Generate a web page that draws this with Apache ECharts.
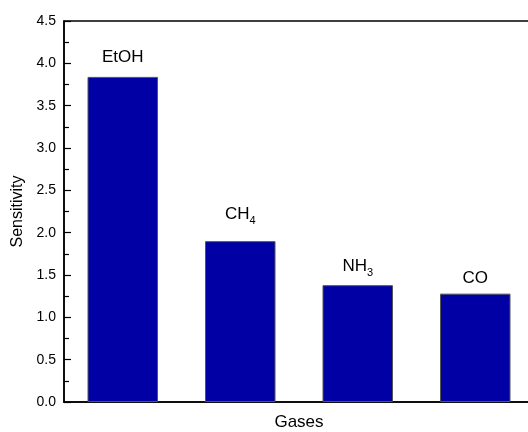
<!DOCTYPE html>
<html>
<head>
<meta charset="utf-8">
<script src="https://cdn.jsdelivr.net/npm/echarts@6/dist/echarts.min.js"></script>
<style>
  html, body { margin: 0; padding: 0; background: #fff; }
  #chart { width: 528px; height: 432px; }
</style>
</head>
<body>
<div id="chart"></div>
<script>
// Gas categories and measured sensitivity
const gases = ['EtOH', 'CH4', 'NH3', 'CO'];
const sensitivity = [3.84, 1.90, 1.38, 1.28];
// Bar annotations (rich text, with subscripts)
const gasLabels = ['EtOH', 'CH{sub|4}', 'NH{sub|3}', 'CO'];
// Gap between each bar and its annotation
const labelGaps = [11, 15, 7, 7];

const chart = echarts.init(document.getElementById('chart'));
const font = 'Liberation Sans, Arial, sans-serif';

chart.setOption({
  animation: false,
  grid: {
    left: 64, right: -6, top: 21, bottom: 30,
    outerBoundsMode: 'none',
    containLabel: false,
    show: true, borderColor: '#000', borderWidth: 1.5, backgroundColor: 'transparent'
  },
  xAxis: {
    type: 'category',
    data: gases,
    name: 'Gases',
    nameLocation: 'middle',
    nameGap: 12,
    nameTextStyle: { fontFamily: font, fontSize: 17, color: '#000' },
    axisLine: { lineStyle: { color: '#000', width: 1.5 } },
    axisTick: { show: false },
    axisLabel: { show: false },
    splitLine: { show: false }
  },
  yAxis: {
    type: 'value',
    min: 0, max: 4.5, interval: 0.5,
    name: 'Sensitivity',
    nameLocation: 'middle',
    nameGap: 38,
    nameTextStyle: { fontFamily: font, fontSize: 16, color: '#000' },
    axisLine: { show: true, lineStyle: { color: '#000', width: 1.5 } },
    axisTick: { show: true, inside: true, length: 7, lineStyle: { color: '#000', width: 1.2 } },
    minorTick: { show: true, splitNumber: 2, length: 5, lineStyle: { color: '#000', width: 1.2 } },
    axisLabel: {
      fontFamily: font, fontSize: 14, color: '#000', margin: 8,
      formatter: v => v.toFixed(1)
    },
    splitLine: { show: false }
  },
  series: [{
    type: 'bar',
    data: sensitivity.map((v, i) => ({ value: v, label: { distance: labelGaps[i] } })),
    barWidth: '60%',
    itemStyle: { color: '#0000A4', borderColor: '#555', borderWidth: 1 },
    label: {
      show: true,
      position: 'top',
      fontFamily: font,
      fontSize: 17,
      color: '#000',
      formatter: p => gasLabels[p.dataIndex],
      rich: {
        sub: { fontFamily: font, fontSize: 11, color: '#000', padding: [12, 0, 0, 0] }
      }
    }
  }]
});
</script>
</body>
</html>
